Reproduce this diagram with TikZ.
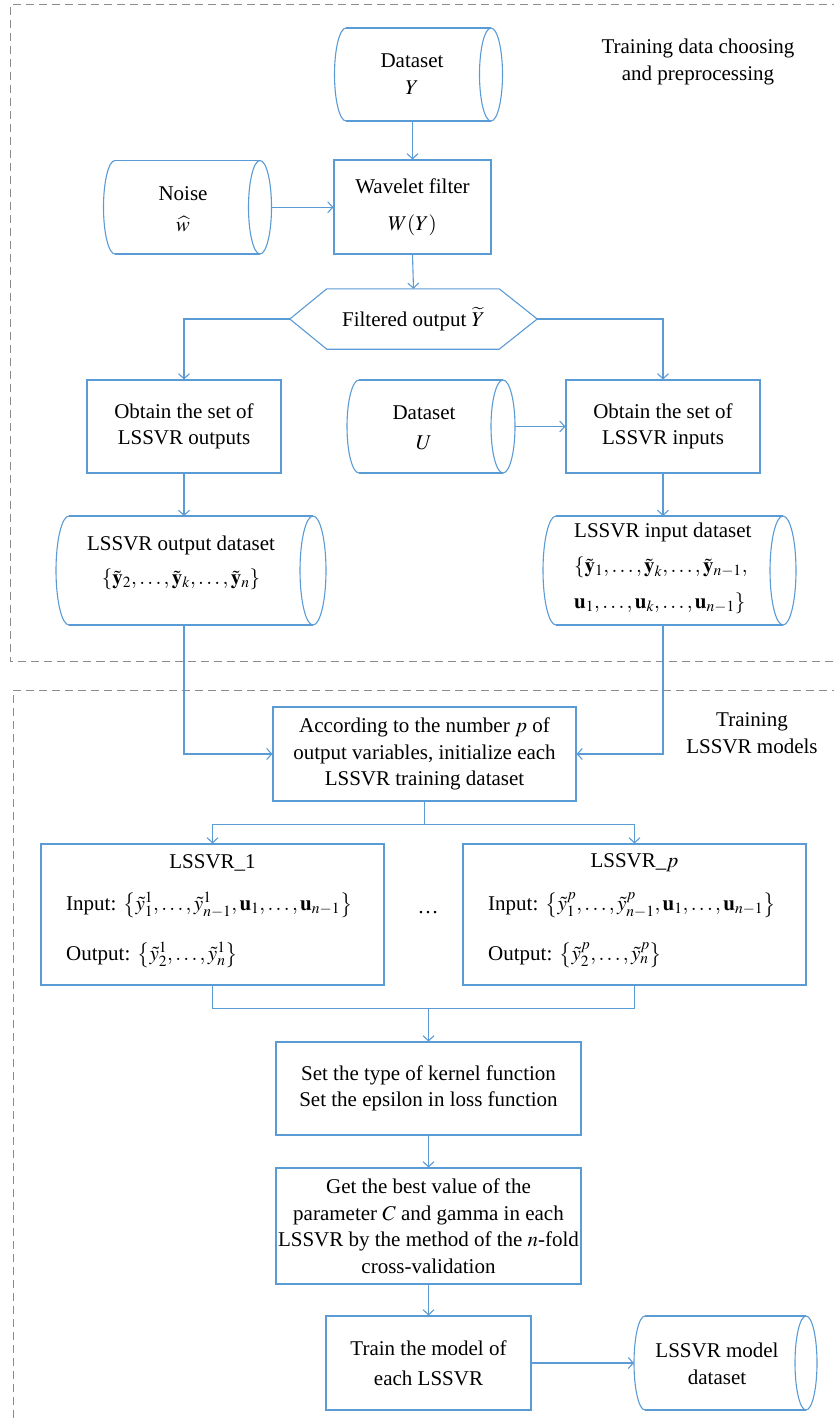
\documentclass[tikz,border=0pt]{standalone}
\usepackage{mathptmx}
\usepackage{fontspec}
\setmainfont{Liberation Serif}
\usetikzlibrary{arrows.meta,calc}
\definecolor{flowblue}{HTML}{5B9BD5}
\definecolor{dashgray}{HTML}{8C8C8C}
\tikzset{
 flow/.style={draw=flowblue, line width=1.1pt},
 arr/.style={flow, -{Straight Barb[length=5pt,width=11pt]}},
 box/.style={flow, rectangle, inner sep=0pt, align=center},
 txt/.style={inner sep=0pt, align=center},
 every node/.style={font=\fontsize{21}{26.5}\selectfont},
 frame/.style={draw=dashgray, line width=1pt, dash pattern=on 8pt off 5pt},
}
% name, cx, cy, half width, half height, bulge
\newcommand{\storeshape}[6]{%
 \coordinate (#1-nw) at (#2-#4,#3-#5);
 \coordinate (#1-ne) at (#2+#4,#3-#5);
 \coordinate (#1-sw) at (#2-#4,#3+#5);
 \coordinate (#1-se) at (#2+#4,#3+#5);
 \coordinate (#1-w) at (#2-#4-#6,#3);
 \coordinate (#1-e) at (#2+#4+#6,#3);
 \coordinate (#1-n) at (#2,#3-#5);
 \coordinate (#1-s) at (#2,#3+#5);
 \draw[flow] (#1-nw) -- (#1-ne) (#1-sw) -- (#1-se);
 \draw[flow] (#1-nw) arc[start angle=90,end angle=270,x radius=#6pt,y radius=#5pt];
 \draw[flow] (#2+#4,#3) ellipse[x radius=#6pt,y radius=#5pt];
}
\begin{document}
\begin{tikzpicture}[x=1pt,y=-1pt]
\useasboundingbox (0,0) rectangle (833,1422);
% frames
\draw[frame] (840,4) -- (10.5,4) -- (10.5,661.5) -- (840,661.5);
\draw[frame] (840,690) -- (13,690) -- (13,1430);
\node[txt] (lab1) at (698,62) {Training data choosing\\and preprocessing};
\node[txt] (lab2) at (752,733) {Training\\LSSVR models};

% stores
\storeshape{dsY}{418.5}{74.5}{72.5}{46.5}{11.5}
\node[txt] (dsY) at (412,74) {Dataset\\$Y$};
\storeshape{noise}{187.5}{207.25}{72.5}{46.75}{11.5}
\node[txt] (noise) at (183,209) {Noise\\[5pt]$\widehat{w}$};
\storeshape{dsU}{431}{426.5}{72}{46.5}{12}
\node[txt] (dsU) at (424,428) {Dataset\\[3pt]$U$};
\storeshape{outds}{191}{570.5}{122}{54.5}{13}
\node[txt] (outds) at (181,563) {LSSVR output dataset\\[7pt]$\{\tilde{\mathbf{y}}_2,\dots,\tilde{\mathbf{y}}_k,\dots,\tilde{\mathbf{y}}_n\}$};
\storeshape{inds}{669.5}{570.5}{113.5}{54.5}{13}
\node[txt, align=left, anchor=west] (inds) at (574,568) {LSSVR input dataset\\[9pt]$\{\tilde{\mathbf{y}}_1,\dots,\tilde{\mathbf{y}}_k,\dots,\tilde{\mathbf{y}}_{n-1},$\\[9pt]$\mathbf{u}_1,\dots,\mathbf{u}_k,\dots,\mathbf{u}_{n-1}\}$};
\storeshape{mds}{725.5}{1363}{80.5}{47}{11}
\node[txt] (mds) at (717,1364) {LSSVR model\\dataset};

% boxes
\node[box, minimum width=157pt, minimum height=94pt] (wave) at (412.5,207) {Wavelet filter\\[10pt]$W(Y)$};
\node[txt, minimum width=247pt, minimum height=60pt] (hex) at (413.5,319) {Filtered output $\widetilde{Y}$};
\draw[flow] (hex.west) -- ([xshift=37pt]hex.north west) -- ([xshift=-38pt]hex.north east) -- (hex.east) -- ([xshift=-38pt]hex.south east) -- ([xshift=37pt]hex.south west) -- cycle;
\node[box, minimum width=194pt, minimum height=93pt] (outb) at (184,426.5) {Obtain the set of\\LSSVR outputs};
\node[box, minimum width=194pt, minimum height=93pt] (inb) at (663,426.5) {Obtain the set of\\LSSVR inputs};
\node[box, minimum width=303pt, minimum height=94pt] (init) at (424.5,754) {According to the number $p$ of\\output variables, initialize each\\LSSVR training dataset};
\node[box, minimum width=343pt, minimum height=141pt] (l1) at (212.5,914.5) {};
\node[txt] (l1t) at (212.5,863) {LSSVR\_1};
\node[txt, anchor=west] (l1i) at (66,905) {Input: $\left\{\tilde{y}^1_1,\dots,\tilde{y}^1_{n-1},\mathbf{u}_1,\dots,\mathbf{u}_{n-1}\right\}$};
\node[txt, anchor=west] (l1o) at (66,955) {Output: $\left\{\tilde{y}^1_2,\dots,\tilde{y}^1_n\right\}$};
\node[box, minimum width=343pt, minimum height=141pt] (lp) at (634.5,914.5) {};
\node[txt] (lpt) at (634.5,863) {LSSVR\_$p$};
\node[txt, anchor=west] (lpi) at (488,905) {Input: $\left\{\tilde{y}^p_1,\dots,\tilde{y}^p_{n-1},\mathbf{u}_1,\dots,\mathbf{u}_{n-1}\right\}$};
\node[txt, anchor=west] (lpo) at (488,955) {Output: $\left\{\tilde{y}^p_2,\dots,\tilde{y}^p_n\right\}$};
\node[txt] (dots) at (428,913) {\dots};
\node[box, minimum width=305pt, minimum height=93pt] (kern) at (428.5,1088.5) {Set the type of kernel function\\Set the epsilon in loss function};
\node[box, minimum width=305pt, minimum height=116pt] (best) at (428.5,1226) {Get the best value of the\\parameter $C$ and gamma in each\\LSSVR by the method of the $n$-fold\\cross-validation};
\node[box, minimum width=205pt, minimum height=94pt] (train) at (428.5,1363) {Train the model of\\[3pt]each LSSVR};

% connectors
\draw[arr] (wave.north |- dsY-s) -- (wave.north);
\draw[arr] (noise-e) -- (noise-e -| wave.west);
\draw[arr] (wave.south) -- (hex.north);
\draw[arr] (hex.west) -| (outb.north);
\draw[arr] (hex.east) -| (inb.north);
\draw[arr] (dsU-e) -- (dsU-e -| inb.west);
\draw[arr] (outb.south) -- (outb.south |- outds-n);
\draw[arr] (inb.south) -- (inb.south |- inds-n);
\draw[arr] (outb.south |- outds-s) |- (init.west);
\draw[arr] (inb.south |- inds-s) |- (init.east);
\draw[flow] (init.south) -- ++(0,23) coordinate (split);
\draw[arr] (split) -| (l1.north);
\draw[arr] (split) -| (lp.north);
\draw[flow] (l1.south) -- ++(0,23) coordinate (jl) -| (lp.south);
\draw[arr] (kern.north |- jl) -- (kern.north);
\draw[arr] (kern.south) -- (best.north);
\draw[arr] (best.south) -- (train.north);
\draw[arr] (train.east) -- (mds-w);
\end{tikzpicture}
\end{document}
